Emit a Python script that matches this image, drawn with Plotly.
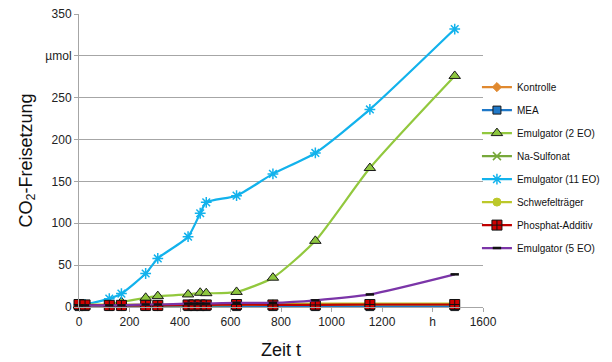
import plotly.graph_objects as go

t = [0, 24, 120, 168, 264, 312, 432, 456, 480, 504, 624, 768, 936, 1152, 1488]

kontrolle = [1, 1, 1, 1, 1, 1, 1.5, 1.5, 1.5, 1.5, 1.5, 1.5, 2, 2, 2]
mea = [0.5, 0.5, 0.5, 0.5, 0.5, 0.5, 0.5, 0.5, 0.5, 0.5, 0.5, 0.5, 0.5, 0.5, 0.5]
emul2 = [2, 2, 3, 6, 11, 13, 15, None, 17, 16.5, 18, 35, 79, 166, 276]
nasulf = [2, 2, 2, 2, 2, 2, 2, 2, 2, 2, 2.5, 2.5, 2.5, 3, 3]
emul11 = [3, 3, 10, 16, 40, 58, 84, None, 112, 125, 133, 159, 184, 236, 332]
schwefel = [3, 3, 3, 3, 3, 3, 3, 3, 3, 3, 3.5, 3.5, 4, 4, 4]
phosphat = [3, 2.5, 2, 2, 2, 2, 2.5, 2.5, 2.5, 2.5, 3, 2.5, 2.5, 3, 3]
emul5 = [2, 2, 2, 2, 3, 3, 4, 4, 4, 4, 5, 5, 8, 15, 39]

y_ticks = [0, 50, 100, 150, 200, 250, 300, 350]
y_labels = ["0", "50", "100", "150", "200", "250", "µmol", "350"]
x_ticks = [0, 200, 400, 600, 800, 1000, 1200, 1400, 1600]
x_labels = ["0", "200", "400", "600", "800", "1000", "1200", "h", "1600"]

series = [
    ("Kontrolle", kontrolle, "#E0892F", dict(symbol="diamond", size=7, color="#E0892F", line=dict(color="#E0892F", width=1))),
    ("MEA", mea, "#1F78C8", dict(symbol="square", size=8, color="#1F78C8", line=dict(color="#1a1a1a", width=1))),
    ("Emulgator (2 EO)", emul2, "#92C83E", dict(symbol="triangle-up", size=10, color="#8DC63F", line=dict(color="#1a1a1a", width=1))),
    ("Na-Sulfonat", nasulf, "#77A83A", dict(symbol="x-thin", size=8, color="#77A83A", line=dict(color="#77A83A", width=1.5))),
    ("Emulgator (11 EO)", emul11, "#12B2EC", dict(symbol="asterisk", size=9, color="#12B2EC", line=dict(color="#12B2EC", width=1.5))),
    ("Schwefelträger", schwefel, "#BCC82A", dict(symbol="circle", size=8, color="#BCC82A", line=dict(color="#BCC82A", width=1))),
    ("Phosphat-Additiv", phosphat, "#C00000", dict(symbol="square-cross", size=10, color="#D00000", line=dict(color="#111111", width=1))),
    ("Emulgator (5 EO)", emul5, "#7B35A8", dict(symbol="line-ew", size=6, color="#111111", line=dict(color="#111111", width=2.5))),
]

fig = go.Figure()
for name, vals, col, mk in series:
    fig.add_trace(go.Scatter(
        x=t, y=vals, name=name, mode="lines+markers", legendgroup=name,
        line=dict(color=col, width=2.2, shape="spline", smoothing=0.6),
        marker=mk, connectgaps=True, cliponaxis=False,
    ))

fig.update_layout(
    width=612, height=362,
    margin=dict(l=71, r=137, t=6, b=63, autoexpand=False),
    paper_bgcolor="white", plot_bgcolor="white",
    font=dict(family="Liberation Sans, Arial, sans-serif", size=12, color="#222222"),
    legend=dict(x=0.985, y=0.80, xanchor="left", yanchor="top",
                font=dict(size=10, color="#111111"), tracegroupgap=4,
                itemwidth=30, bgcolor="rgba(0,0,0,0)"),
    showlegend=True,
)
fig.update_xaxes(
    range=[0, 1600], tickvals=x_ticks, ticktext=x_labels,
    showgrid=False, showline=True, linecolor="#A6A6A6", linewidth=1,
    ticks="outside", ticklen=4, tickcolor="#A6A6A6", zeroline=False,
    ticklabeloverflow="allow",
    title=dict(text="Zeit t", font=dict(size=18, color="#111111"), standoff=14),
)
fig.update_yaxes(
    range=[0, 350], tickvals=y_ticks, ticktext=y_labels,
    showgrid=True, gridcolor="#A6A6A6", gridwidth=1,
    showline=True, linecolor="#A6A6A6", linewidth=1,
    ticks="outside", ticklen=4, tickcolor="#A6A6A6", zeroline=False,
    ticklabeloverflow="allow",
    title=dict(text="CO<sub>2</sub>-Freisetzung", font=dict(size=18, color="#111111"), standoff=8),
)

fig.write_html("out.html")
